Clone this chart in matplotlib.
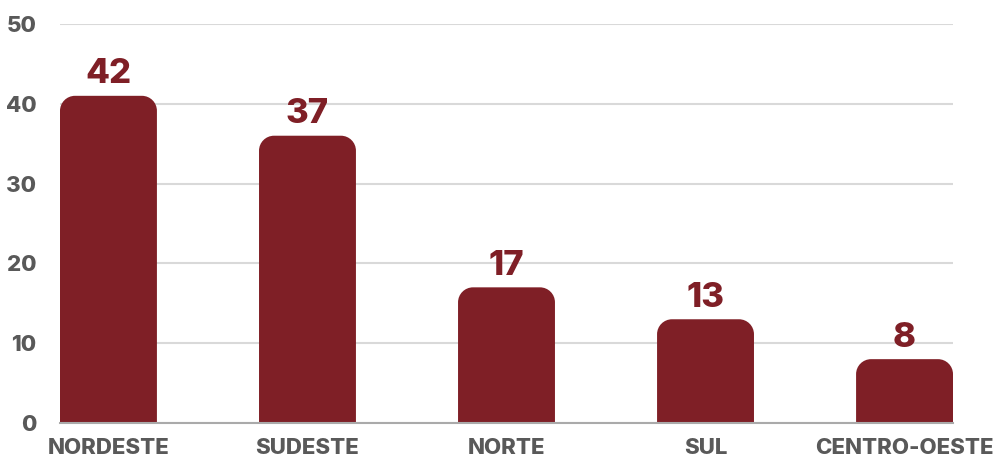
import numpy as np
import matplotlib
matplotlib.use("Agg")
import matplotlib.pyplot as plt
from matplotlib.path import Path
from matplotlib.patches import PathPatch

regioes = ["NORDESTE", "SUDESTE", "NORTE", "SUL", "CENTRO-OESTE"]
valores = [41, 36, 17, 13, 8]
rotulos = ["42", "37", "17", "13", "8"]

cor_barra = "#7f1f26"
cinza = "#595959"
plt.rcParams["font.family"] = ["Inter", "DejaVu Sans"]

fig = plt.figure(figsize=(10.03, 4.59), dpi=100)
ax = fig.add_axes([60 / 1003, 36 / 459, 893 / 1003, 399 / 459])

largura = 0.487
x = np.arange(len(regioes))
ax.set_xlim(-largura / 2, len(regioes) - 1 + largura / 2)
ax.set_ylim(0, 50)

# escala px por unidade para arredondar os cantos
px_x = 893 / (len(regioes) - 1 + largura)
px_y = 399 / 50
raio = 15
k = 0.5523

for xi, v in zip(x, valores):
    x0, x1 = xi - largura / 2, xi + largura / 2
    rx, ry = raio / px_x, raio / px_y
    verts = [
        (x0, 0), (x0, v - ry),
        (x0, v - ry + k * ry), (x0 + rx - k * rx, v), (x0 + rx, v),
        (x1 - rx, v),
        (x1 - rx + k * rx, v), (x1, v - ry + k * ry), (x1, v - ry),
        (x1, 0), (x0, 0),
    ]
    codes = [Path.MOVETO, Path.LINETO,
             Path.CURVE4, Path.CURVE4, Path.CURVE4,
             Path.LINETO,
             Path.CURVE4, Path.CURVE4, Path.CURVE4,
             Path.LINETO, Path.CLOSEPOLY]
    ax.add_patch(PathPatch(Path(verts, codes), facecolor=cor_barra,
                           edgecolor="none", zorder=3))

for xi, v, r in zip(x, valores, rotulos):
    ax.text(xi, v + 0.7, r, ha="center", va="bottom", color=cor_barra,
            fontsize=25, fontweight="heavy", zorder=4)

ax.set_yticks(range(0, 51, 10))
ax.grid(axis="y", color="#d9d9d9", linewidth=1.5, zorder=0)
ax.set_xticks(x)
ax.set_xticklabels(regioes)
ax.tick_params(axis="both", length=0, colors=cinza, labelsize=16)
ax.tick_params(axis="y", pad=17)
ax.tick_params(axis="x", pad=11)
for lab in ax.get_xticklabels() + ax.get_yticklabels():
    lab.set_fontweight("heavy")

for s in ["top", "right", "left"]:
    ax.spines[s].set_visible(False)
ax.spines["bottom"].set_color("#aaaaaa")
ax.spines["bottom"].set_linewidth(1.5)
ax.spines["bottom"].set_zorder(5)

fig.savefig("out.png", dpi=100)
